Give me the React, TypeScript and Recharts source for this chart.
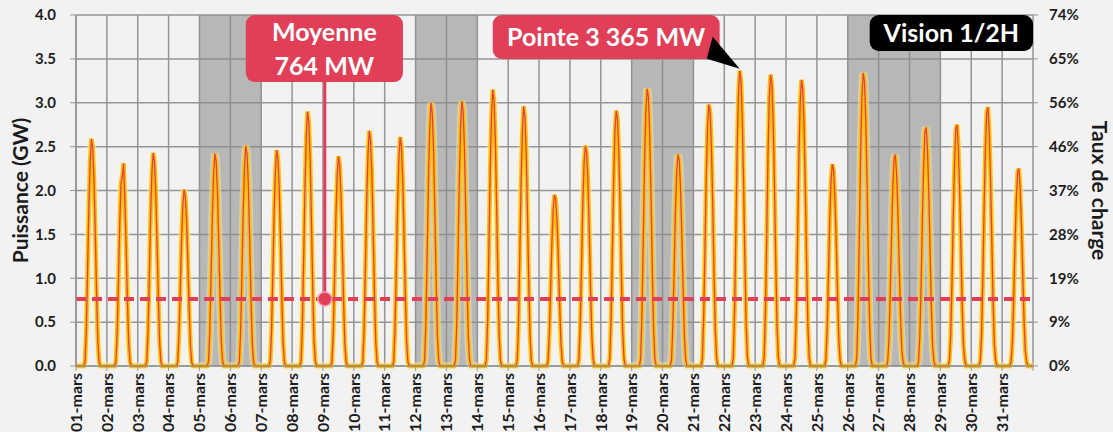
import { LineChart, Line, XAxis, YAxis, CartesianGrid, ReferenceArea, ReferenceLine, ReferenceDot } from 'recharts'

const FONT = 'Lato, "Open Sans", sans-serif'
const RED = '#e13f57'
const GOLD = '#ffc000'
const GRID = '#959595'
const TEXT = '#1c1c1c'

// one label per day, ticks sit at midnight
const DAY_LABELS = [
  '01-mars', '02-mars', '03-mars', '04-mars', '05-mars', '06-mars', '07-mars', '08-mars',
  '09-mars', '10-mars', '11-mars', '12-mars', '13-mars', '14-mars', '15-mars', '16-mars',
  '17-mars', '18-mars', '19-mars', '20-mars', '21-mars', '22-mars', '23-mars', '24-mars',
  '25-mars', '26-mars', '27-mars', '28-mars', '29-mars', '30-mars', '31-mars',
]

// hours of the day covered by each row below (0 outside)
const HOURS = [6, 7, 8, 9, 10, 11, 12, 13, 14, 15, 16, 17, 18, 19, 20]

// production in GW
const DAILY_GW: number[][] = [
  [0, 0.05, 0.41, 1.09, 1.81, 2.33, 2.59, 2.49, 2.12, 1.5, 0.83, 0.28, 0.05, 0, 0],
  [0, 0.05, 0.37, 0.97, 1.62, 2.08, 2.16, 2.31, 1.89, 1.34, 0.74, 0.25, 0.05, 0, 0],
  [0, 0.05, 0.39, 1.02, 1.7, 2.19, 2.43, 2.33, 1.99, 1.41, 0.78, 0.27, 0.05, 0, 0],
  [0, 0.04, 0.32, 0.84, 1.41, 1.81, 2.01, 1.93, 1.65, 1.17, 0.64, 0.22, 0.04, 0, 0],
  [0, 0.05, 0.39, 1.02, 1.69, 2.2, 2.42, 2.32, 1.98, 1.4, 0.77, 0.27, 0.05, 0, 0],
  [0, 0.05, 0.4, 1.05, 1.76, 2.26, 2.51, 2.41, 2.06, 1.46, 0.8, 0.28, 0.05, 0, 0],
  [0, 0.05, 0.39, 1.03, 1.72, 2.21, 2.46, 2.36, 2.02, 1.43, 0.79, 0.27, 0.05, 0, 0],
  [0, 0.06, 0.46, 1.22, 2.03, 2.61, 2.9, 2.78, 2.38, 1.68, 0.93, 0.32, 0.06, 0, 0],
  [0, 0.05, 0.38, 1.0, 1.67, 2.15, 2.39, 2.29, 1.96, 1.39, 0.76, 0.26, 0.05, 0, 0],
  [0, 0.05, 0.43, 1.13, 1.88, 2.41, 2.68, 2.57, 2.2, 1.55, 0.86, 0.29, 0.05, 0, 0],
  [0, 0.05, 0.42, 1.1, 1.83, 2.35, 2.61, 2.51, 2.14, 1.51, 0.84, 0.29, 0.05, 0, 0],
  [0, 0.06, 0.48, 1.26, 2.1, 2.7, 3.0, 2.88, 2.46, 1.74, 0.96, 0.33, 0.06, 0, 0],
  [0, 0.06, 0.48, 1.27, 2.11, 2.72, 3.02, 2.9, 2.48, 1.75, 0.97, 0.33, 0.06, 0, 0],
  [0, 0.06, 0.5, 1.32, 2.21, 2.84, 3.15, 3.02, 2.58, 1.83, 1.01, 0.35, 0.06, 0, 0],
  [0, 0.06, 0.47, 1.24, 2.07, 2.66, 2.96, 2.84, 2.43, 1.72, 0.95, 0.33, 0.06, 0, 0],
  [0, 0.06, 0.37, 0.88, 1.42, 1.79, 1.95, 1.89, 1.64, 1.21, 0.7, 0.27, 0.06, 0, 0],
  [0, 0.08, 0.48, 1.13, 1.83, 2.31, 2.51, 2.43, 2.11, 1.56, 0.9, 0.35, 0.08, 0, 0],
  [0, 0.09, 0.55, 1.31, 2.12, 2.68, 2.91, 2.82, 2.44, 1.8, 1.05, 0.41, 0.09, 0, 0],
  [0, 0.09, 0.6, 1.42, 2.31, 2.91, 3.16, 3.07, 2.65, 1.96, 1.14, 0.44, 0.09, 0, 0],
  [0, 0.07, 0.46, 1.08, 1.76, 2.22, 2.41, 2.34, 2.02, 1.49, 0.87, 0.34, 0.07, 0, 0],
  [0, 0.09, 0.57, 1.34, 2.18, 2.74, 2.98, 2.89, 2.5, 1.85, 1.07, 0.42, 0.09, 0, 0],
  [0, 0.1, 0.64, 1.51, 2.46, 3.1, 3.365, 3.26, 2.83, 2.09, 1.21, 0.47, 0.1, 0, 0],
  [0, 0.1, 0.63, 1.49, 2.42, 3.05, 3.32, 3.22, 2.79, 2.06, 1.2, 0.46, 0.1, 0, 0],
  [0, 0.1, 0.62, 1.47, 2.38, 3.0, 3.26, 3.16, 2.74, 2.02, 1.17, 0.46, 0.1, 0, 0],
  [0, 0.07, 0.44, 1.04, 1.68, 2.12, 2.3, 2.23, 1.93, 1.43, 0.83, 0.32, 0.07, 0, 0],
  [0, 0.1, 0.63, 1.5, 2.44, 3.07, 3.34, 3.24, 2.81, 2.07, 1.2, 0.47, 0.1, 0, 0],
  [0, 0.05, 0.29, 0.82, 1.47, 2.02, 2.36, 2.41, 2.17, 1.74, 1.16, 0.58, 0.19, 0.05, 0],
  [0, 0.05, 0.33, 0.92, 1.66, 2.28, 2.67, 2.72, 2.45, 1.96, 1.31, 0.65, 0.22, 0.05, 0],
  [0, 0.06, 0.33, 0.94, 1.68, 2.31, 2.7, 2.75, 2.48, 1.98, 1.32, 0.66, 0.22, 0.06, 0],
  [0, 0.06, 0.35, 1.0, 1.8, 2.48, 2.89, 2.95, 2.66, 2.12, 1.42, 0.71, 0.24, 0.06, 0],
  [0, 0.05, 0.27, 0.77, 1.37, 1.89, 2.21, 2.25, 2.03, 1.62, 1.08, 0.54, 0.18, 0.05, 0],
]

const MEAN_GW = 0.764
const PEAK_GW = 3.365
const PEAK_T = 21.5 // 22-mars, midday

// shaded day ranges [start, end) in day units
const SHADED: Array<[number, number]> = [[4, 6], [11, 13], [18, 20], [25, 28]]

const GW_TICKS = [0, 0.5, 1, 1.5, 2, 2.5, 3, 3.5, 4]
const LOAD_LABELS = ['0%', '9%', '19%', '28%', '37%', '46%', '56%', '65%', '74%']
const DAY_TICKS = Array.from({ length: DAY_LABELS.length + 1 }, (_, i) => i)

const data: Array<{ t: number; p: number }> = []
DAILY_GW.forEach((row, d) => {
  data.push({ t: d, p: 0 })
  HOURS.forEach((h, i) => data.push({ t: d + h / 24, p: row[i] }))
})
data.push({ t: DAY_LABELS.length, p: 0 })

function DayTick({ x, y, payload }: any) {
  const label = DAY_LABELS[payload.value]
  if (!label) return null
  return (
    <text
      transform={`translate(${x},${y}) rotate(-90)`}
      textAnchor="end"
      dy="0.36em"
      fontFamily={FONT}
      fontWeight={700}
      fontSize={16}
      fill={TEXT}
    >
      {label}
    </text>
  )
}

function Callout({ x, y, width, height, lines, fill }: any) {
  const cx = x + width / 2
  const lh = 34
  const top = y + height / 2 - ((lines.length - 1) * lh) / 2
  return (
    <g>
      <rect x={x} y={y} width={width} height={height} rx={9} fill={fill} />
      {lines.map((l: string, i: number) => (
        <text
          key={i}
          x={cx}
          y={top + i * lh}
          dy="0.36em"
          textAnchor="middle"
          fontFamily={FONT}
          fontWeight={700}
          fontSize={25}
          fill="#ffffff"
        >
          {l}
        </text>
      ))}
    </g>
  )
}

export default function App() {
  return (
    <div style={{ position: 'absolute', left: 0, top: 0, width: 1113, height: 432, background: '#f2f2f2' }}>
      <LineChart width={1113} height={432} data={data} margin={{ top: 15, right: 0, bottom: 0, left: 0 }}>
        <CartesianGrid yAxisId="left" stroke={GRID} strokeWidth={1.5} />
        <XAxis
          dataKey="t"
          type="number"
          domain={[0, 31]}
          ticks={DAY_TICKS}
          interval={0}
          height={66}
          tick={<DayTick />}
          tickSize={5}
          tickMargin={2}
          stroke={GRID}
          axisLine={{ stroke: GRID, strokeWidth: 1.5 }}
        />
        <YAxis
          yAxisId="left"
          width={76}
          domain={[0, 4]}
          ticks={GW_TICKS}
          tickFormatter={(v: number) => v.toFixed(1)}
          tickSize={6}
          tickMargin={14}
          stroke={GRID}
          axisLine={{ stroke: GRID, strokeWidth: 1.5 }}
          tick={{ fontFamily: FONT, fontWeight: 700, fontSize: 15, fill: TEXT }}
          label={({ viewBox }: any) => (
            <text
              transform={`translate(${viewBox.x + 21},${viewBox.y + viewBox.height / 2}) rotate(-90)`}
              textAnchor="middle"
              dy="0.35em"
              fontFamily={FONT}
              fontWeight={700}
              fontSize={21}
              fill={TEXT}
            >
              Puissance (GW)
            </text>
          )}
        />
        <YAxis
          yAxisId="right"
          orientation="right"
          width={80}
          domain={[0, 4]}
          ticks={GW_TICKS}
          tickFormatter={(v: number) => LOAD_LABELS[GW_TICKS.indexOf(v)] ?? ''}
          tickSize={5}
          tickMargin={11}
          stroke={GRID}
          axisLine={false}
          tick={{ fontFamily: FONT, fontWeight: 700, fontSize: 15, fill: TEXT }}
          label={({ viewBox }: any) => (
            <text
              transform={`translate(${viewBox.x + 66},${viewBox.y + viewBox.height / 2}) rotate(90)`}
              textAnchor="middle"
              dy="0.35em"
              fontFamily={FONT}
              fontWeight={700}
              fontSize={21}
              fill={TEXT}
            >
              Taux de charge
            </text>
          )}
        />

        {SHADED.map(([a, b]) => (
          <ReferenceArea key={a} yAxisId="left" x1={a} x2={b} y1={0} y2={4} fill="#8c8c8c" fillOpacity={0.58} stroke="none" />
        ))}

        {/* invisible copy so the right axis has something to scale */}
        <Line yAxisId="right" dataKey="p" stroke="none" dot={false} activeDot={false} isAnimationActive={false} />
        <Line yAxisId="left" dataKey="p" type="linear" stroke="#f2f4c4" strokeOpacity={0.4} strokeWidth={8} dot={false} isAnimationActive={false} />
        <Line yAxisId="left" dataKey="p" type="linear" stroke={GOLD} strokeWidth={4.5} dot={false} isAnimationActive={false} />
        <Line yAxisId="left" dataKey="p" type="linear" stroke={RED} strokeWidth={1.3} dot={false} isAnimationActive={false} />

        <ReferenceLine yAxisId="left" y={MEAN_GW} stroke={RED} strokeWidth={4} strokeDasharray="10 6" />
        <ReferenceLine
          yAxisId="left"
          segment={[{ x: 8.06, y: MEAN_GW }, { x: 8.06, y: 3.3 }]}
          stroke={RED}
          strokeWidth={3}
        />
        <ReferenceDot yAxisId="left" x={8.06} y={MEAN_GW} r={7} fill={RED} stroke="#f3a3ad" strokeWidth={1.5} />

        <ReferenceDot
          yAxisId="left"
          x={PEAK_T}
          y={PEAK_GW}
          shape={(p: any) => (
            <polygon points={`${p.cx},${p.cy - 2} ${p.cx - 27},${p.cy - 34} ${p.cx - 33},${p.cy - 12}`} fill="#000000" />
          )}
        />

        <ReferenceArea
          yAxisId="left"
          x1={5.5}
          x2={10.59}
          y1={3.236}
          y2={4}
          shape={(p: any) => <Callout {...p} fill={RED} lines={['Moyenne', `${Math.round(MEAN_GW * 1000)} MW`]} />}
        />
        <ReferenceArea
          yAxisId="left"
          x1={13.5}
          x2={20.85}
          y1={3.5}
          y2={4}
          shape={(p: any) => <Callout {...p} fill={RED} lines={[`Pointe 3 ${Math.round(PEAK_GW * 1000) % 1000} MW`]} />}
        />
        <ReferenceArea
          yAxisId="left"
          x1={25.71}
          x2={31}
          y1={3.59}
          y2={4}
          shape={(p: any) => <Callout {...p} fill="#000000" lines={['Vision 1/2H']} />}
        />
      </LineChart>
    </div>
  )
}
